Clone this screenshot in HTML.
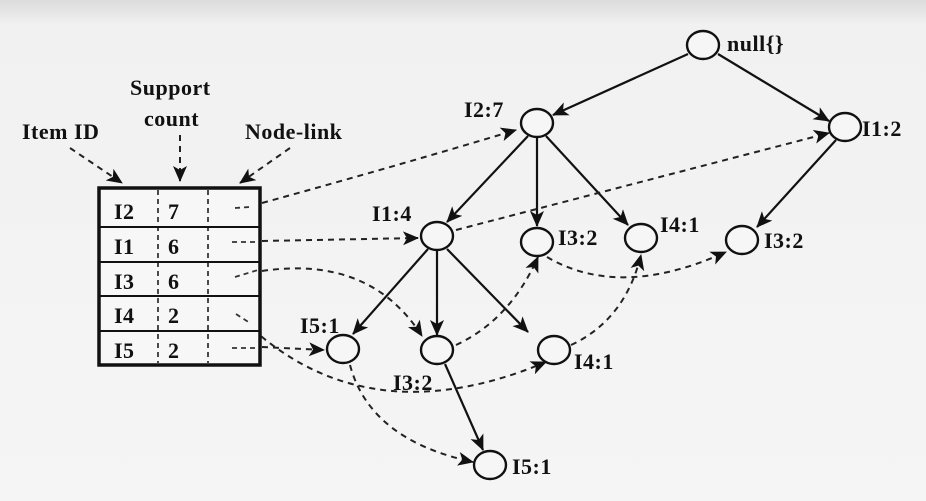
<!DOCTYPE html>
<html><head><style>
body{margin:0;width:926px;height:501px;overflow:hidden;background:linear-gradient(#dcdcdc 0px,#f1f1f1 25px,#f5f5f5 100%);}
svg{position:absolute;left:0;top:0}
text{font-family:"Liberation Serif",serif;font-weight:bold;font-size:22px;fill:#111;letter-spacing:0.5px}
</style></head><body>
<svg width="926" height="501" viewBox="0 0 926 501">
<defs>
<marker id="b" markerWidth="16" markerHeight="14" refX="15" refY="7" orient="auto" markerUnits="userSpaceOnUse"><path d="M0,0 L16,7 L0,14 L4,7 Z" fill="#111"/></marker>
</defs>
<g stroke="#111" stroke-width="2.2" fill="none" marker-end="url(#b)">
<line x1="688" y1="54" x2="553" y2="115"/>
<line x1="718" y1="54" x2="829" y2="121"/>
<line x1="528" y1="136" x2="447" y2="222"/>
<line x1="537" y1="137" x2="537" y2="226"/>
<line x1="546" y1="136" x2="628" y2="225"/>
<line x1="836" y1="140" x2="757" y2="227"/>
<line x1="428" y1="249" x2="353" y2="334"/>
<line x1="437" y1="250" x2="437" y2="335"/>
<line x1="447" y1="249" x2="528" y2="332"/>
<line x1="445" y1="364" x2="483" y2="450"/>
</g>
<g stroke="#222" stroke-width="2" fill="none" stroke-dasharray="6,5" marker-end="url(#b)">
<path d="M262,203 Q400,165 516,130"/>
<path d="M262,241 L418,238"/>
<path d="M456,230 L829,133"/>
<path d="M262,271 Q370,255 422,336"/>
<path d="M456,345 Q510,320 538,257"/>
<path d="M547,257 Q620,300 726,252"/>
<path d="M237,314 Q360,440 546,362"/>
<path d="M571,345 Q625,320 641,255"/>
<path d="M262,347 L324,350"/>
<path d="M350,365 Q370,440 473,462"/>
<path d="M70,148 L122,183"/>
<path d="M180,135 L180,181"/>
<path d="M290,148 L240,183"/>
</g>
<g stroke="#111" stroke-width="2.4" fill="#f6f6f6">
<ellipse cx="703" cy="45" rx="16" ry="14"/>
<ellipse cx="537" cy="123" rx="16" ry="14"/>
<ellipse cx="845" cy="127" rx="16" ry="14"/>
<ellipse cx="437" cy="236" rx="16" ry="14"/>
<ellipse cx="537" cy="242" rx="16" ry="14"/>
<ellipse cx="641" cy="238" rx="16" ry="14"/>
<ellipse cx="742" cy="240" rx="16" ry="14"/>
<ellipse cx="343" cy="349" rx="16" ry="14"/>
<ellipse cx="437" cy="350" rx="16" ry="14"/>
<ellipse cx="554" cy="350" rx="16" ry="14"/>
<ellipse cx="490" cy="465" rx="16" ry="14"/>
</g>
<rect x="99" y="188" width="161" height="177" fill="#f7f7f7" stroke="#111" stroke-width="3.5"/>
<g stroke="#111" stroke-width="2"><line x1="99" y1="227" x2="260" y2="227"/><line x1="99" y1="262" x2="260" y2="262"/><line x1="99" y1="296" x2="260" y2="296"/><line x1="99" y1="331" x2="260" y2="331"/></g>
<g stroke="#111" stroke-width="1.5" stroke-dasharray="5,4"><line x1="158" y1="190" x2="158" y2="363"/><line x1="208" y1="190" x2="208" y2="363"/></g>
<g stroke="#333" stroke-width="1.8" stroke-dasharray="5,4"><line x1="235" y1="208" x2="250" y2="207"/><line x1="232" y1="242" x2="258" y2="242"/><line x1="235" y1="277" x2="258" y2="270"/><line x1="236" y1="314" x2="250" y2="323"/><line x1="232" y1="348" x2="258" y2="348"/></g>
<text x="114" y="219" font-size="24">I2</text><text x="168" y="219" font-size="24">7</text>
<text x="114" y="254" font-size="24">I1</text><text x="168" y="254" font-size="24">6</text>
<text x="114" y="289" font-size="24">I3</text><text x="168" y="289" font-size="24">6</text>
<text x="114" y="323" font-size="24">I4</text><text x="168" y="323" font-size="24">2</text>
<text x="114" y="358" font-size="24">I5</text><text x="168" y="358" font-size="24">2</text>
<text x="22" y="139">Item ID</text>
<text x="130" y="95">Support</text>
<text x="144" y="126">count</text>
<text x="245" y="139">Node-link</text>
<text x="727" y="51">null{}</text>
<text x="464" y="117">I2:7</text>
<text x="862" y="136">I1:2</text>
<text x="372" y="221">I1:4</text>
<text x="558" y="245">I3:2</text>
<text x="660" y="232">I4:1</text>
<text x="764" y="248">I3:2</text>
<text x="300" y="333">I5:1</text>
<text x="393" y="390">I3:2</text>
<text x="574" y="369">I4:1</text>
<text x="512" y="474">I5:1</text>
</svg>
</body></html>
